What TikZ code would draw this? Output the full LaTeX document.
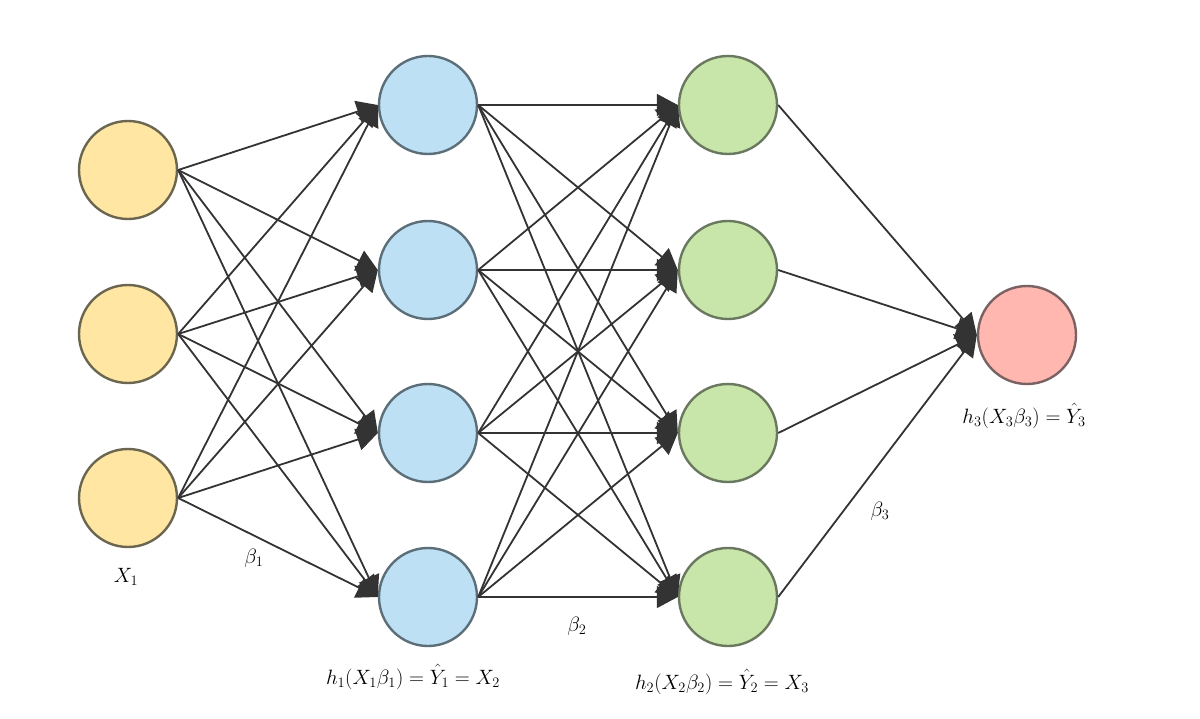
\documentclass[tikz,border=0pt]{standalone}
\usetikzlibrary{arrows.meta}
\definecolor{yfill}{HTML}{FFE6A3}
\definecolor{ydraw}{HTML}{6B6650}
\definecolor{bfill}{HTML}{BEE0F5}
\definecolor{bdraw}{HTML}{5C6E78}
\definecolor{gfill}{HTML}{C8E6A9}
\definecolor{gdraw}{HTML}{6A7860}
\definecolor{rfill}{HTML}{FFB7B0}
\definecolor{rdraw}{HTML}{7A6262}
\definecolor{edgec}{HTML}{333333}
\begin{document}
\begin{tikzpicture}[x=1pt,y=-1pt,
  neuron/.style={circle,minimum size=98pt,inner sep=0pt,line width=2.4pt},
  yel/.style={neuron,fill=yfill,draw=ydraw},
  blu/.style={neuron,fill=bfill,draw=bdraw},
  grn/.style={neuron,fill=gfill,draw=gdraw},
  red/.style={neuron,fill=rfill,draw=rdraw},
  conn/.style={draw=edgec,line width=1.8pt,-{Triangle[length=21pt,width=22pt]}},
  lbl/.style={font=\fontsize{20}{24}\selectfont,inner sep=0pt}]
\useasboundingbox (0,0) rectangle (1200,719);
\fill[white] (0,0) rectangle (1200,719);
\foreach \i/\y in {1/170,2/334,3/498} \coordinate (a\i) at (128,\y);
\foreach \j/\y in {1/105,2/270,3/433,4/597} {\coordinate (b\j) at (428,\y); \coordinate (c\j) at (728,\y);}
\node[yel] (A1) at (a1) {};
\node[yel] (A2) at (a2) {};
\node[yel] (A3) at (a3) {};
\node[blu] (B1) at (b1) {};
\node[blu] (B2) at (b2) {};
\node[blu] (B3) at (b3) {};
\node[blu] (B4) at (b4) {};
\node[grn] (C1) at (c1) {};
\node[grn] (C2) at (c2) {};
\node[grn] (C3) at (c3) {};
\node[grn] (C4) at (c4) {};
\node[red] (D) at (1027,335) {};
\foreach \i in {1,2,3} \foreach \j in {1,2,3,4} \draw[conn] (A\i.east) -- (B\j.west);
\foreach \i in {1,2,3,4} \foreach \j in {1,2,3,4} \draw[conn] (B\i.east) -- (C\j.west);
\foreach \i in {1,2,3,4} \draw[conn] (C\i.east) -- (D.west);
% labels
\node[lbl] (lx1) at (126,577) {$X_1$};
\node[lbl] (lb1) at (254,558) {$\beta_1$};
\node[lbl] (lb2) at (577,626) {$\beta_2$};
\node[lbl] (lb3) at (880,511) {$\beta_3$};
\node[lbl] (lh1) at (413,677) {$h_1(X_1\beta_1)=\hat{Y}_1=X_2$};
\node[lbl] (lh2) at (722,682) {$h_2(X_2\beta_2)=\hat{Y}_2=X_3$};
\node[lbl] (lh3) at (1024,416) {$h_3(X_3\beta_3)=\hat{Y}_3$};
\end{tikzpicture}
\end{document}
